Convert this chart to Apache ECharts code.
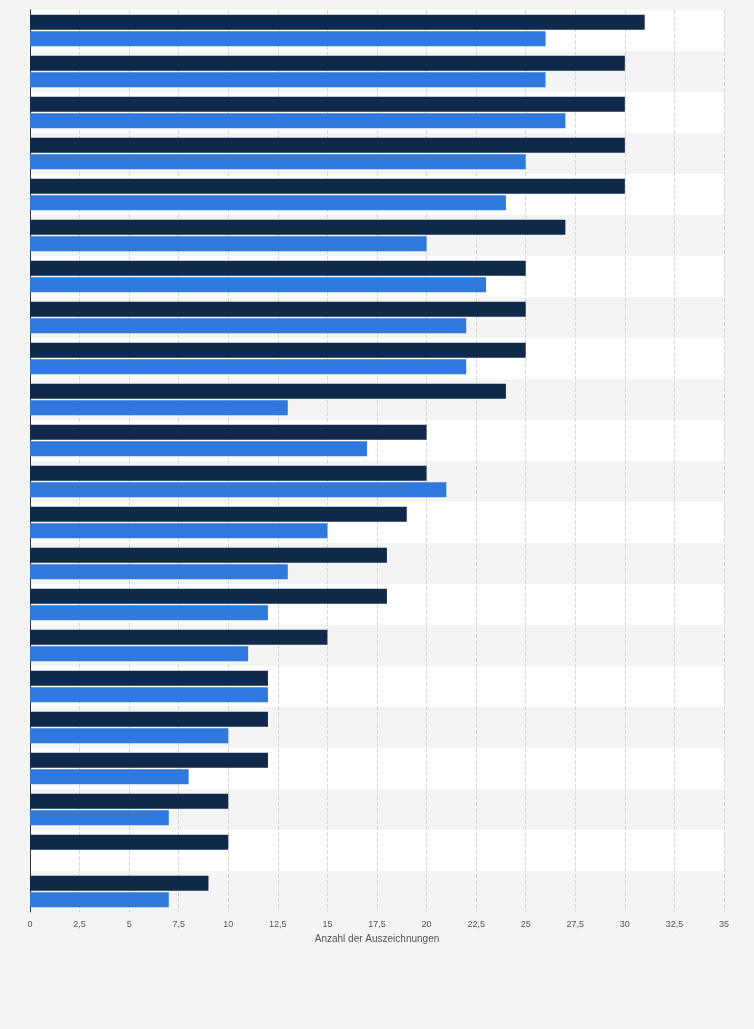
<!DOCTYPE html>
<html>
<head>
<meta charset="utf-8">
<script src="https://cdn.jsdelivr.net/npm/echarts@6/dist/echarts.min.js"></script>
<style>
  html, body { margin: 0; padding: 0; background: #f4f4f4; }
  #chart { width: 754px; height: 1029px; }
</style>
</head>
<body>
<div id="chart"></div>
<script>
// rows top to bottom, no labels shown in the picture
var categories = ['1','2','3','4','5','6','7','8','9','10','11','12','13','14','15','16','17','18','19','20','21','22'];
var seriesDark = [31, 30, 30, 30, 30, 27, 25, 25, 25, 24, 20, 20, 19, 18, 18, 15, 12, 12, 12, 10, 10, 9];
var seriesBlue = [26, 26, 27, 25, 24, 20, 23, 22, 22, 13, 17, 21, 15, 13, 12, 11, 12, 10, 8, 7, null, 7];

var chart = echarts.init(document.getElementById('chart'));

chart.setOption({
	backgroundColor: '#f4f4f4',
	animation: false,
	grid: { left: 30, right: 30, top: 10, bottom: 117, backgroundColor: '#fff', show: true, borderWidth: 0 },
	xAxis: {
		type: 'value',
		min: 0, max: 35, interval: 2.5,
		name: 'Anzahl der Auszeichnungen',
		nameLocation: 'middle',
		nameGap: 22,
		nameTextStyle: { color: '#555', fontSize: 10, fontFamily: 'Arial, Liberation Sans' },
		axisLabel: {
			color: '#555', fontSize: 9, fontFamily: 'Arial, Liberation Sans',
			formatter: function (v) { return String(v).replace('.', ','); }
		},
		axisLine: { show: false },
		axisTick: { show: false },
		splitLine: { lineStyle: { color: '#d8d8d8', type: 'dashed' } }
	},
	yAxis: {
		type: 'category',
		data: categories,
		inverse: true,
		axisLabel: { show: false },
		axisTick: { show: false },
		axisLine: { lineStyle: { color: '#333' } },
		splitArea: { show: true, areaStyle: { color: ['#ffffff', '#f4f4f4'] } }
	},
	series: [
		{ type: 'bar', data: seriesDark, barWidth: 15, barGap: '10%', itemStyle: { color: '#10294a' } },
		{ type: 'bar', data: seriesBlue, barWidth: 15, itemStyle: { color: '#2f78dc' } }
	]
});
</script>
</body>
</html>
